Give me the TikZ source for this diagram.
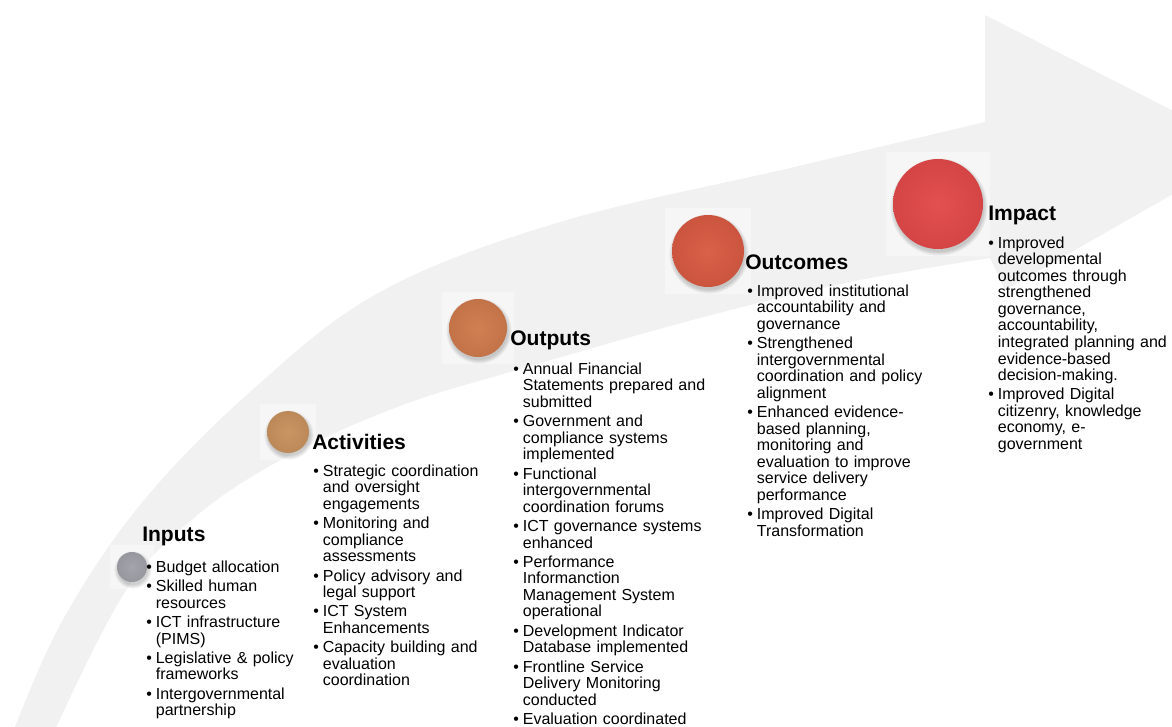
\documentclass[tikz,border=0pt]{standalone}
\usepackage{fontspec}
\setmainfont{Liberation Sans}
\usetikzlibrary{positioning}
\definecolor{BandGray}{HTML}{F1F1F1}
\definecolor{InGray}{HTML}{A0A0A8}
\definecolor{ActTan}{HTML}{C8915D}
\definecolor{OutOrange}{HTML}{CF7A4C}
\definecolor{OcmRed}{HTML}{D85A42}
\definecolor{ImpRed}{HTML}{E24949}
\newcommand{\bul}[1]{\par\noindent\hangindent=7.2pt\hangafter=1\makebox[7.2pt][l]{\textbullet}#1\par\vspace{2.1pt}}
\tikzset{
  stagetitle/.style={anchor=west, inner sep=0pt, font=\fontsize{15.8}{18}\selectfont\bfseries},
  stagebody/.style={anchor=north west, inner sep=0pt, text width=#1, font=\fontsize{12}{12.4}\selectfont},
  stagebody/.default={175pt},
  stagedot/.style={circle, inner sep=0pt, minimum size=#1, shade},
}

\begin{document}
\begin{tikzpicture}[x=0.75pt, y=-0.75pt]
  \useasboundingbox (0,0) rectangle (1172,726);
  % curved band with arrowhead
  \begin{scope}
    \clip (0,0) rectangle (1172,726);
    \fill[BandGray] plot[smooth, tension=0.6] coordinates {(8,745) (60,625) (140,505) (250,392) (380,292) (560,222) (790,168) (985,122)}
      -- (985,15) -- (1250,150) -- (1005,290)
      -- plot[smooth, tension=0.6] coordinates {(990,258) (850,282) (700,318) (510,372) (400,406) (290,455) (200,513) (125,592) (48,745)} -- cycle;
  \end{scope}
  % stage dots
  \foreach \cx/\cy/\r/\col/\nm in {132/567/15/InGray/inC, 288/432/21/ActTan/actC,
      478/328/29/OutOrange/outC, 708/251/36/OcmRed/ocmC, 938/204/45/ImpRed/impC} {
    \fill[white, opacity=0.4] ({\cx-\r-7},{\cy-\r-7}) rectangle ({\cx+\r+7},{\cy+\r+7});
    \foreach \k in {0,1,...,4}
      \fill[black, opacity=0.04] ({\cx+1},{\cy+3}) circle ({\r+\k*0.9});
    \node[stagedot={2*\r*0.75pt}, inner color=\col!96!white, outer color=\col!94!black] (\nm) at (\cx,\cy) {};
  }
  % titles
  \node[stagetitle] (inT) at (142,536) {Inputs};
  \node[stagetitle] (actT) at (312,442) {Activities};
  \node[stagetitle] (outT) at (510,340) {Outputs};
  \node[stagetitle] (ocmT) at (745,262) {Outcomes};
  \node[stagetitle] (impT) at (988,215) {Impact};
  % bullet lists
  \node[stagebody] (inB) at (146,555.5) {%
    \bul{Budget allocation}
    \bul{Skilled human\newline resources}
    \bul{ICT infrastructure\newline (PIMS)}
    \bul{Legislative \& policy\newline frameworks}
    \bul{Intergovernmental\newline partnership}};
  \node[stagebody] (actB) at (313,459.5) {%
    \bul{Strategic coordination\newline and oversight\newline engagements}
    \bul{Monitoring and\newline compliance\newline assessments}
    \bul{Policy advisory and\newline legal support}
    \bul{ICT System\newline Enhancements}
    \bul{Capacity building and\newline evaluation\newline coordination}};
  \node[stagebody] (outB) at (513,357.5) {%
    \bul{Annual Financial\newline Statements prepared and\newline submitted}
    \bul{Government and\newline compliance systems\newline implemented}
    \bul{Functional\newline intergovernmental\newline coordination forums}
    \bul{ICT governance systems\newline enhanced}
    \bul{Performance\newline Informanction\newline Management System\newline operational}
    \bul{Development Indicator\newline Database implemented}
    \bul{Frontline Service\newline Delivery Monitoring\newline conducted}
    \bul{Evaluation coordinated}};
  \node[stagebody] (ocmB) at (747,279.5) {%
    \bul{Improved institutional\newline accountability and\newline governance}
    \bul{Strengthened\newline intergovernmental\newline coordination and policy\newline alignment}
    \bul{Enhanced evidence-\newline based planning,\newline monitoring and\newline evaluation to improve\newline service delivery\newline performance}
    \bul{Improved Digital\newline Transformation}};
  \node[stagebody] (impB) at (988,231.5) {%
    \bul{Improved\newline developmental\newline outcomes through\newline strengthened\newline governance,\newline accountability,\newline integrated planning and\newline evidence-based\newline decision-making.}
    \bul{Improved Digital\newline citizenry, knowledge\newline economy, e-\newline government}};
\end{tikzpicture}
\end{document}
